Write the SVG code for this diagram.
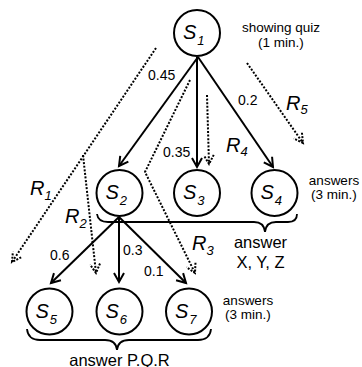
<svg xmlns="http://www.w3.org/2000/svg" width="362" height="367" viewBox="0 0 362 367">
<style>
text{font-family:"Liberation Sans",Arial,sans-serif;fill:#000}
.node{fill:#fff;stroke:#000;stroke-width:2}
.s{font-size:20px;font-style:italic}
.sub{font-size:13px}
.r{font-size:20px;font-style:italic}
.p{font-size:14px}
.note{font-size:13.5px;text-anchor:middle}
.big{font-size:16.5px;text-anchor:middle}
.edge{fill:none;stroke:#000;stroke-width:2}
.dot{fill:none;stroke:#000;stroke-width:2;stroke-dasharray:2 1.6}
.brace{fill:none;stroke:#000;stroke-width:1.8}
</style>
<defs>
<marker id="ah" markerUnits="userSpaceOnUse" markerWidth="20" markerHeight="20" refX="0" refY="0" viewBox="-10 -10 20 20" orient="auto" overflow="visible">
<path d="M-9,-5 L0,0 L-9,5" fill="none" stroke="#000" stroke-width="2"/>
</marker>
<marker id="ahd" markerUnits="userSpaceOnUse" markerWidth="20" markerHeight="20" refX="0" refY="0" viewBox="-10 -10 20 20" orient="auto" overflow="visible">
<path d="M-9,-5 L0,0 L-9,5" fill="none" stroke="#000" stroke-width="2" stroke-dasharray="2 1.4"/>
</marker>
</defs>
<g id="connectors">
<path class="edge" d="M198,57 L119,166" marker-end="url(#ah)"/>
<path class="edge" d="M197,57 L197,167" marker-end="url(#ah)"/>
<path class="edge" d="M198,57 L273,167" marker-end="url(#ah)"/>
<path class="edge" d="M119,217 L51,283" marker-end="url(#ah)"/>
<path class="edge" d="M119,217 L119,282" marker-end="url(#ah)"/>
<path class="edge" d="M119,217 L186,283" marker-end="url(#ah)"/>
<path class="dot" d="M156,48 L12,262" marker-end="url(#ahd)"/>
<path class="dot" d="M83,155 L96,273" marker-end="url(#ahd)"/>
<path class="dot" d="M190,80 L145,172 L195,273" marker-end="url(#ahd)"/>
<path class="dot" d="M207,95 L209,164" marker-end="url(#ahd)"/>
<path class="dot" d="M247,63 L303,143" marker-end="url(#ahd)"/>
<path class="brace" d="M97,214 Q98,222 108,222 L254,222 Q264,222 265,232 Q266,222 276,222 L288,222 Q297,222 297,214"/>
<path class="brace" d="M27,329 Q28,340 40,340 L105,340 Q116,340 117,350 Q118,340 129,340 L198,340 Q210,340 211,329"/>
</g>
<g id="edge-labels">
<text class="p" x="148" y="80">0.45</text>
<text class="p" x="163" y="156.5">0.35</text>
<text class="p" x="238" y="105">0.2</text>
<text class="p" x="50" y="260">0.6</text>
<text class="p" x="123" y="255">0.3</text>
<text class="p" x="144" y="276">0.1</text>
<text class="r" x="30" y="195">R<tspan class="sub" dy="5">1</tspan></text>
<text class="r" x="65" y="223">R<tspan class="sub" dy="5">2</tspan></text>
<text class="r" x="192" y="250">R<tspan class="sub" dy="5">3</tspan></text>
<text class="r" x="226" y="152">R<tspan class="sub" dy="4">4</tspan></text>
<text class="r" x="286" y="110">R<tspan class="sub" dy="4">5</tspan></text>
</g>
<g id="S1"><circle class="node" cx="197" cy="33" r="23"/><text class="s" x="183" y="39">S<tspan class="sub" dx="1" dy="6">1</tspan></text></g>
<g id="S2"><circle class="node" cx="119.5" cy="193" r="23"/><text class="s" x="105.5" y="199">S<tspan class="sub" dx="1" dy="6">2</tspan></text></g>
<g id="S3"><circle class="node" cx="197" cy="193" r="23"/><text class="s" x="183" y="199">S<tspan class="sub" dx="1" dy="6">3</tspan></text></g>
<g id="S4"><circle class="node" cx="274.5" cy="193" r="23"/><text class="s" x="260.5" y="199">S<tspan class="sub" dx="1" dy="6">4</tspan></text></g>
<g id="S5"><circle class="node" cx="49.5" cy="311.5" r="23"/><text class="s" x="35.5" y="317.5">S<tspan class="sub" dx="1" dy="6">5</tspan></text></g>
<g id="S6"><circle class="node" cx="119.5" cy="311.5" r="23"/><text class="s" x="105.5" y="317.5">S<tspan class="sub" dx="1" dy="6">6</tspan></text></g>
<g id="S7"><circle class="node" cx="189" cy="311.5" r="23"/><text class="s" x="175" y="317.5">S<tspan class="sub" dx="1" dy="6">7</tspan></text></g>
<g id="notes">
<text class="note" x="281" y="32">showing quiz</text>
<text class="note" x="281" y="47">(1 min.)</text>
<text class="note" x="334" y="185">answers</text>
<text class="note" x="334" y="199">(3 min.)</text>
<text class="note" x="248" y="304.5">answers</text>
<text class="note" x="248" y="318.5">(3 min.)</text>
<text class="big" x="260.5" y="248">answer</text>
<text class="big" x="260.5" y="268">X, Y, Z</text>
<text class="big" x="119.5" y="365.5">answer P.Q.R</text>
</g>
</svg>
